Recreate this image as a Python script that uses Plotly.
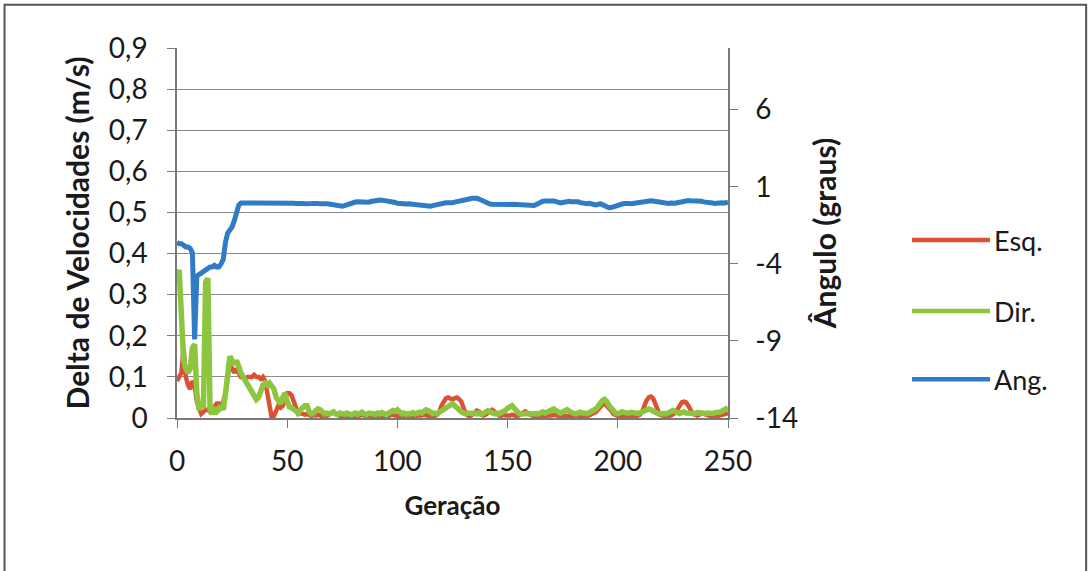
import plotly.graph_objects as go

# ---------------- data ----------------
geracao = list(range(0, 251))

esq = [
    0.09, 0.10, 0.11, 0.17, 0.10, 0.08, 0.07, 0.09, 0.08, 0.04,
    0.02, 0.01, 0.015, 0.02, 0.02, 0.015, 0.02, 0.03, 0.035, 0.035,
    0.03, 0.04, 0.06, 0.10, 0.13, 0.12, 0.11, 0.12, 0.11, 0.10,
    0.10, 0.095, 0.10, 0.10, 0.10, 0.105, 0.10, 0.10, 0.095, 0.10,
    0.09, 0.06, 0.02, 0.0, 0.005, 0.02, 0.03, 0.025, 0.03, 0.045,
    0.06, 0.06, 0.055, 0.04, 0.02, 0.01, 0.012, 0.010, 0.008, 0.010,
    0.006, 0.005, 0.007, 0.006, 0.008, 0.005, 0.004, 0.006, 0.005, 0.008,
    0.012, 0.015, 0.010, 0.006, 0.005, 0.004, 0.006, 0.005, 0.004, 0.005,
    0.006, 0.005, 0.004, 0.006, 0.008, 0.006, 0.005, 0.004, 0.006, 0.005,
    0.004, 0.005, 0.006, 0.005, 0.004, 0.006, 0.005, 0.007, 0.008, 0.006,
    0.005, 0.004, 0.006, 0.005, 0.004, 0.005, 0.006, 0.005, 0.004, 0.006,
    0.005, 0.006, 0.008, 0.006, 0.005, 0.004, 0.006, 0.005, 0.008, 0.015,
    0.030, 0.042, 0.048, 0.050, 0.046, 0.045, 0.048, 0.050, 0.046, 0.040,
    0.025, 0.010, 0.006, 0.005, 0.008, 0.014, 0.018, 0.016, 0.010, 0.006,
    0.008, 0.012, 0.018, 0.020, 0.016, 0.010, 0.006, 0.005, 0.008, 0.006,
    0.005, 0.006, 0.008, 0.006, 0.005, 0.006, 0.010, 0.014, 0.016, 0.012,
    0.008, 0.006, 0.005, 0.004, 0.006, 0.005, 0.004, 0.005, 0.006, 0.005,
    0.006, 0.008, 0.006, 0.005, 0.004, 0.006, 0.005, 0.006, 0.005, 0.004,
    0.005, 0.006, 0.004, 0.005, 0.006, 0.005, 0.004, 0.006, 0.008, 0.010,
    0.014, 0.020, 0.028, 0.032, 0.035, 0.030, 0.024, 0.018, 0.010, 0.006,
    0.005, 0.006, 0.005, 0.004, 0.006, 0.005, 0.006, 0.005, 0.004, 0.006,
    0.008, 0.015, 0.030, 0.042, 0.050, 0.052, 0.048, 0.035, 0.018, 0.008,
    0.006, 0.005, 0.006, 0.005, 0.006, 0.008, 0.012, 0.020, 0.032, 0.038,
    0.040, 0.038, 0.030, 0.018, 0.010, 0.008, 0.006, 0.008, 0.012, 0.010,
    0.008, 0.006, 0.005, 0.006, 0.005, 0.004, 0.006, 0.008, 0.010, 0.012,
    0.012,
]

dir_ = [
    0.34, 0.36, 0.25, 0.14, 0.12, 0.11, 0.12, 0.17, 0.18, 0.06,
    0.02, 0.03, 0.03, 0.33, 0.34, 0.02, 0.01, 0.02, 0.015, 0.02,
    0.03, 0.02, 0.06, 0.12, 0.15, 0.14, 0.13, 0.14, 0.12, 0.11,
    0.10, 0.09, 0.08, 0.075, 0.06, 0.05, 0.045, 0.05, 0.07, 0.08,
    0.085, 0.08, 0.085, 0.075, 0.07, 0.05, 0.04, 0.035, 0.05, 0.06,
    0.04, 0.027, 0.025, 0.02, 0.015, 0.012, 0.02, 0.025, 0.03, 0.03,
    0.015, 0.010, 0.012, 0.018, 0.022, 0.020, 0.014, 0.010, 0.012, 0.010,
    0.012, 0.015, 0.010, 0.008, 0.012, 0.010, 0.009, 0.012, 0.010, 0.008,
    0.010, 0.012, 0.009, 0.011, 0.014, 0.010, 0.008, 0.012, 0.010, 0.011,
    0.009, 0.012, 0.010, 0.013, 0.010, 0.008, 0.012, 0.015, 0.018, 0.016,
    0.020, 0.015, 0.010, 0.012, 0.009, 0.011, 0.010, 0.013, 0.010, 0.012,
    0.014, 0.012, 0.016, 0.020, 0.018, 0.013, 0.011, 0.012, 0.010, 0.014,
    0.018, 0.022, 0.025, 0.028, 0.032, 0.035, 0.030, 0.024, 0.020, 0.015,
    0.012, 0.010, 0.012, 0.010, 0.011, 0.013, 0.010, 0.012, 0.009, 0.011,
    0.014, 0.018, 0.015, 0.011, 0.010, 0.012, 0.010, 0.013, 0.015, 0.018,
    0.024, 0.028, 0.030, 0.024, 0.016, 0.012, 0.010, 0.011, 0.012, 0.010,
    0.011, 0.010, 0.012, 0.011, 0.010, 0.012, 0.015, 0.012, 0.014, 0.018,
    0.020, 0.022, 0.018, 0.014, 0.012, 0.015, 0.018, 0.020, 0.016, 0.012,
    0.011, 0.010, 0.012, 0.014, 0.012, 0.010, 0.011, 0.013, 0.015, 0.018,
    0.022, 0.028, 0.036, 0.042, 0.045, 0.040, 0.030, 0.022, 0.016, 0.012,
    0.010, 0.012, 0.015, 0.013, 0.011, 0.012, 0.014, 0.012, 0.010, 0.011,
    0.012, 0.014, 0.016, 0.020, 0.022, 0.020, 0.016, 0.013, 0.011, 0.010,
    0.012, 0.011, 0.010, 0.012, 0.015, 0.018, 0.016, 0.012, 0.011, 0.013,
    0.015, 0.012, 0.011, 0.010, 0.012, 0.011, 0.013, 0.012, 0.010, 0.009,
    0.011, 0.012, 0.010, 0.011, 0.013, 0.012, 0.014, 0.016, 0.020, 0.022,
    0.025,
]

ang = [
    -2.6, -2.7, -2.7, -2.8, -2.9, -2.9, -3.0, -3.3, -8.9, -4.8,
    -4.7, -4.6, -4.5, -4.4, -4.3, -4.2, -4.2, -4.1, -4.2, -4.2,
    -4.0, -3.7, -2.6, -2.0, -1.8, -1.6, -1.2, -0.7, -0.2, -0.05,
    -0.05, -0.02, 0.00, -0.03, -0.05, -0.02, 0.00, -0.04, -0.06, -0.03,
    -0.02, -0.05, -0.08, -0.04, -0.02, -0.05, -0.07, -0.04, -0.03, -0.06,
    -0.08, -0.05, -0.04, -0.07, -0.09, -0.06, -0.05, -0.08, -0.10, -0.07,
    -0.06, -0.09, -0.08, -0.06, -0.09, -0.11, -0.08, -0.07, -0.10, -0.12,
    -0.15, -0.20, -0.24, -0.27, -0.28, -0.26, -0.22, -0.16, -0.10, -0.05,
    -0.02, 0.01, 0.03, 0.02, -0.02, -0.05, -0.03, 0.00, 0.04, 0.08,
    0.10, 0.12, 0.14, 0.13, 0.11, 0.14, 0.12, 0.08, 0.03, -0.02,
    -0.07, -0.10, -0.13, -0.14, -0.12, -0.10, -0.12, -0.15, -0.18, -0.21,
    -0.23, -0.25, -0.26, -0.24, -0.25, -0.26, -0.22, -0.18, -0.14, -0.10,
    -0.08, -0.06, -0.04, -0.03, -0.05, -0.03, 0.00, 0.02, 0.04, 0.06,
    0.08, 0.12, 0.17, 0.22, 0.26, 0.27, 0.25, 0.20, 0.12, 0.04,
    -0.04, -0.09, -0.12, -0.14, -0.15, -0.14, -0.15, -0.16, -0.14, -0.15,
    -0.16, -0.15, -0.14, -0.15, -0.16, -0.17, -0.15, -0.14, -0.16, -0.20,
    -0.24, -0.25, -0.22, -0.15, -0.06, 0.02, 0.06, 0.08, 0.09, 0.10,
    0.09, 0.07, 0.03, -0.02, -0.05, -0.02, 0.03, 0.06, 0.05, 0.02,
    0.04, 0.05, 0.02, -0.03, -0.08, -0.12, -0.10, -0.08, -0.12, -0.15,
    -0.18, -0.14, -0.10, -0.16, -0.25, -0.32, -0.36, -0.35, -0.30, -0.22,
    -0.14, -0.10, -0.12, -0.09, -0.06, -0.08, -0.10, -0.07, -0.04, -0.02,
    0.02, 0.05, 0.08, 0.09, 0.10, 0.09, 0.08, 0.05, 0.00, -0.04,
    -0.07, -0.09, -0.10, -0.08, -0.06, -0.09, -0.07, -0.04, 0.00, 0.04,
    0.07, 0.09, 0.10, 0.09, 0.10, 0.08, 0.10, 0.09, 0.06, 0.02,
    -0.02, -0.05, -0.03, -0.06, -0.08, -0.05, -0.07, -0.04, -0.06, -0.03,
    0.00,
]

series_names = ["Esq.", "Dir.", "Ang."]
series_colors = ["#DC5034", "#8CC63F", "#2F7BC6"]

x_ticks = [0, 50, 100, 150, 200, 250]
y_ticks = [0, 0.1, 0.2, 0.3, 0.4, 0.5, 0.6, 0.7, 0.8, 0.9]
y_ticklabels = ["0", "0,1", "0,2", "0,3", "0,4", "0,5", "0,6", "0,7", "0,8", "0,9"]
y2_ticks = [-14, -9, -4, 1, 6]
y2_ticklabels = ["-14", "-9", "-4", "1", "6"]

FONT = "Lato"
TXT = "#1a1a1a"
TICK_SIZE = 28
AXC = "#7a7a7a"

fig = go.Figure()
fig.add_trace(go.Scatter(x=geracao, y=esq, name=series_names[0], mode="lines",
                         line=dict(color=series_colors[0], width=4.5)))
fig.add_trace(go.Scatter(x=geracao, y=dir_, name=series_names[1], mode="lines",
                         line=dict(color=series_colors[1], width=5.5)))
fig.add_trace(go.Scatter(x=geracao, y=ang, name=series_names[2], mode="lines",
                         line=dict(color=series_colors[2], width=5), yaxis="y2"))

# manual legend (long line samples as in the original)
legend_y = [0.481, 0.289, 0.105]
shapes = []
annotations = []
for name, col, ly in zip(series_names, series_colors, legend_y):
    shapes.append(dict(type="line", xref="paper", yref="paper",
                       x0=1.334, x1=1.4755, y0=ly, y1=ly,
                       line=dict(color=col, width=4.5)))
    annotations.append(dict(text=name, xref="paper", yref="paper", x=1.480, y=ly,
                            xanchor="left", yanchor="middle", showarrow=False,
                            font=dict(family=FONT, size=27, color=TXT)))

# outer frame
shapes.append(dict(type="rect", xref="paper", yref="paper",
                   x0=-0.313, x1=1.65, y0=-0.45, y1=1.117,
                   line=dict(color="#555555", width=2), layer="below"))

fig.update_layout(
    width=1090, height=571,
    margin=dict(l=177, r=362, t=48, b=153),
    paper_bgcolor="white", plot_bgcolor="white",
    showlegend=False,
    font=dict(family=FONT, size=TICK_SIZE, color=TXT),
    shapes=shapes, annotations=annotations,
    xaxis=dict(range=[0, 250], tickvals=x_ticks, ticks="outside", ticklen=8,
               tickcolor=AXC, showline=True, linecolor=AXC, linewidth=1.5,
               showgrid=False, zeroline=False, ticklabelstandoff=10,
               tickfont=dict(family=FONT, size=TICK_SIZE, color=TXT),
               title=dict(text="<b>Geração</b>", font=dict(family=FONT, size=26, color=TXT),
                          standoff=20)),
    yaxis=dict(range=[0, 0.9], tickvals=y_ticks, ticktext=y_ticklabels, ticks="outside",
               ticklen=8, tickcolor=AXC, showline=True, linecolor=AXC,
               linewidth=1.5, showgrid=True, gridcolor="#8a8a8a", gridwidth=1.3,
               zeroline=False, ticklabelstandoff=14,
               tickfont=dict(family=FONT, size=TICK_SIZE, color=TXT),
               title=dict(text="<b>Delta de Velocidades (m/s)</b>",
                          font=dict(family=FONT, size=30, color=TXT), standoff=10)),
    yaxis2=dict(range=[-14, 10], tickvals=y2_ticks, ticktext=y2_ticklabels,
                overlaying="y", side="right", ticks="outside", ticklen=8,
                tickcolor=AXC, showline=True, linecolor=AXC, linewidth=1.5,
                showgrid=False, zeroline=False, ticklabelstandoff=12,
                tickfont=dict(family=FONT, size=TICK_SIZE, color=TXT),
                title=dict(text="<b>Ângulo (graus)</b>",
                           font=dict(family=FONT, size=30, color=TXT), standoff=18)),
)

fig.write_html("out.html")
